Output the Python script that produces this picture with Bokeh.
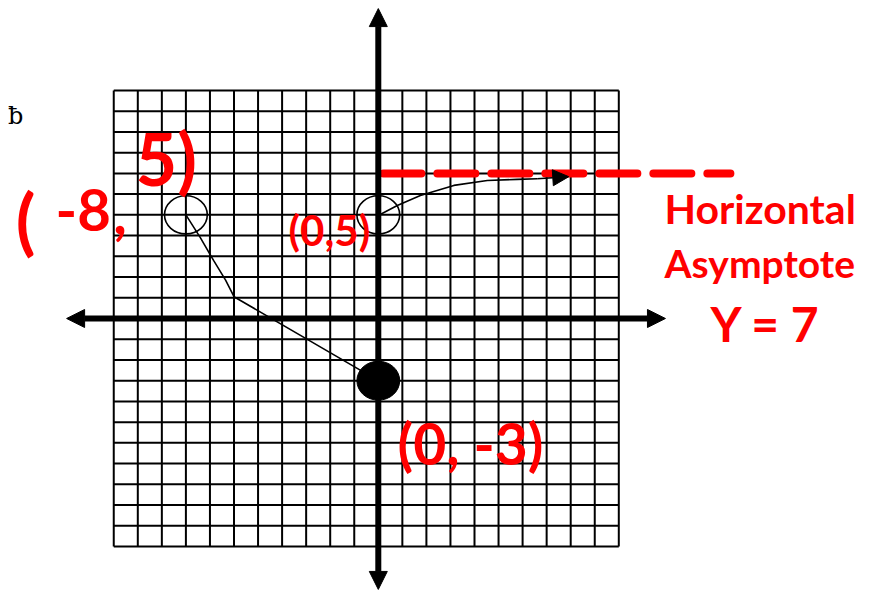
from bokeh.plotting import figure
from bokeh.models import Range1d, Arrow, NormalHead
from bokeh.core.properties import value
from bokeh.embed import file_html
from bokeh.resources import INLINE

# ---- data ----
grid_x = list(range(-11, 11))      # vertical grid lines
grid_y = list(range(-11, 12))      # horizontal grid lines
x_axis_ends = [-12.96, 11.94]
y_axis_ends = [-13.07, 14.95]

open_pts_x = [-8, 0]
open_pts_y = [5, 5]
closed_pts_x = [0]
closed_pts_y = [-3]

left_curve_x = [-8, -7.4, -6.85, -6.35, -6.0, 0]
left_curve_y = [5, 3.9, 2.8, 1.85, 1.05, -3]

right_curve_x = [0, 0.79, 1.75, 3.14, 4.53, 5.78, 6.61]
right_curve_y = [4.97, 5.45, 5.93, 6.42, 6.66, 6.71, 6.74]
right_arrow_tip = (7.92, 6.84)

asymptote_y = 7
asymptote_x = [0.21, 14.64]

RED = "#ff0000"
HAND = "Lato"

p = figure(width=855, height=591, output_backend="svg", toolbar_location=None,
           x_range=Range1d(-15.709, 19.842), y_range=Range1d(-13.17, 15.34),
           min_border=0)
p.axis.visible = False
p.grid.visible = False
p.outline_line_color = None
p.background_fill_color = "white"
p.border_fill_color = "white"

# grid
p.segment(x0=grid_x, y0=[grid_y[0]] * len(grid_x), x1=grid_x, y1=[grid_y[-1]] * len(grid_x),
          line_color="black", line_width=2)
p.segment(x0=[grid_x[0]] * len(grid_y), y0=grid_y, x1=[grid_x[-1]] * len(grid_y), y1=grid_y,
          line_color="black", line_width=2)

# main axes with arrowheads
p.add_layout(Arrow(x_start=x_axis_ends[0], y_start=0, x_end=x_axis_ends[1], y_end=0,
                   line_width=6, line_color="black",
                   start=NormalHead(size=18, fill_color="black", line_color="black"),
                   end=NormalHead(size=18, fill_color="black", line_color="black")))
p.add_layout(Arrow(x_start=0, y_start=y_axis_ends[0], x_end=0, y_end=y_axis_ends[1],
                   line_width=6, line_color="black",
                   start=NormalHead(size=18, fill_color="black", line_color="black"),
                   end=NormalHead(size=18, fill_color="black", line_color="black")))

# asymptote
p.line(x=asymptote_x, y=[asymptote_y] * 2, line_color=RED, line_width=8,
       line_dash="38 16", line_cap="round")

# curves
p.line(x=left_curve_x, y=left_curve_y, line_color="black", line_width=1.6)
p.line(x=right_curve_x, y=right_curve_y, line_color="black", line_width=1.6)
p.add_layout(Arrow(x_start=right_curve_x[-1], y_start=right_curve_y[-1],
                   x_end=right_arrow_tip[0], y_end=right_arrow_tip[1],
                   line_width=1.6, line_color="black",
                   end=NormalHead(size=16, fill_color="black", line_color="black")))

# points
p.ellipse(x=open_pts_x, y=open_pts_y, width=1.78, height=1.84,
          fill_color=None, line_color="black", line_width=1.6)
p.ellipse(x=closed_pts_x, y=closed_pts_y, width=1.78, height=1.88,
          fill_color="black", line_color="black")

def label(x, y, txt, size, align="left", baseline="middle", color=RED, font=HAND, style="bold"):
    p.text(x=[x], y=[y], text=[txt], text_color=color, text_font=value(font),
           text_font_size=f"{size}px", text_align=align, text_baseline=baseline,
           text_font_style=style)

# red handwriting
label(-15.08, 4.82, "(", 72)
label(-13.42, 5.21, "-8", 58)
label(-11.02, 5.11, ",", 58)
label(-10.10, 7.72, "5)", 72)
label(-3.73, 4.25, "(0,5)", 42)
label(0.80, -6.03, "(0, -3)", 57)
label(11.90, 5.31, "Horizontal", 41)
label(11.90, 2.70, "Asymptote", 39)
label(13.81, -0.24, "Y = 7", 48)

# stray glyph
label(-15.08, 9.79, "ƀ", 24, align="center", color="black",
      font="DejaVu Serif", style="normal")

open("out.html", "w").write(file_html(p, INLINE))
